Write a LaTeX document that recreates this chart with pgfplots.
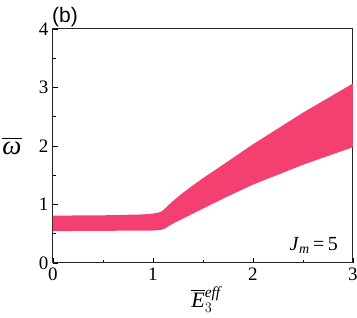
\documentclass[border=0pt]{standalone}
\usepackage{amsmath}
\usepackage{fontspec}
\setmainfont{Liberation Serif}
\newfontfamily\arialf{Liberation Sans}
\usepackage{pgfplots}
\pgfplotsset{compat=1.18}
\definecolor{bandpink}{RGB}{243,64,112}
\begin{document}
\begin{tikzpicture}
\begin{axis}[
  scale only axis,
  width=300pt, height=234pt,
  xmin=0, xmax=3, ymin=0, ymax=4,
  xtick={0,1,2,3}, ytick={0,1,2,3,4},
  minor xtick={0.5,1.5,2.5}, minor ytick={0.5,1.5,2.5,3.5},
  tick align=inside,
  xtick pos=left, ytick pos=left,
  major tick length=5pt, minor tick length=3pt,
  every tick/.style={black, line width=0.8pt},
  axis line style={line width=1pt, black!85},
  /pgf/number format/assume math mode=true,
  tick label style={font=\fontsize{19}{20}\selectfont},
  xticklabel style={yshift=-1pt},
  yticklabel style={xshift=-1pt},
  xlabel={$\overline{\text{\itshape E}}{}_{3}^{\text{\itshape eff}}$},
  xlabel style={font=\fontsize{22}{24}\selectfont, at={(rel axis cs:0.51,0)}, anchor=north, inner sep=0pt, yshift=-23pt},
  ylabel={$\overline{\text{\itshape ω}}$},
  ylabel style={font=\fontsize{27}{28}\selectfont, rotate=-90, at={(rel axis cs:0,0.5)}, anchor=center, xshift=-41pt, inner sep=0pt},
  clip=false,
]
\addplot[fill=bandpink, draw=none] table {
x y
0 0.81
0.5 0.815
0.9 0.83
1.0 0.845
1.05 0.86
1.09 0.885
1.15 0.98
1.2 1.06
1.3 1.20
1.4 1.33
1.5 1.45
1.7 1.68
2.0 2.03
2.5 2.57
3.0 3.07
3.0 1.98
2.5 1.68
2.0 1.34
1.7 1.10
1.5 0.93
1.37 0.82
1.2 0.675
1.12 0.59
1.08 0.565
1.0 0.555
0.5 0.55
0 0.545
} -- cycle;
\node[anchor=base east, font=\fontsize{20}{21}\selectfont, inner sep=0pt] at (axis cs:2.85,0.22) {\textit{J}$_{\text{\itshape m}}$\,=\,5};
\node[anchor=south west, font=\arialf\fontsize{21}{22}\selectfont, inner sep=0pt] at ([xshift=-1pt,yshift=2pt]rel axis cs:0,1) {(b)};
\end{axis}
\pgfresetboundingbox
\path ([xshift=-53pt,yshift=-55pt]current axis.south west) rectangle ([xshift=4pt,yshift=29pt]current axis.north east);
\end{tikzpicture}
\end{document}
